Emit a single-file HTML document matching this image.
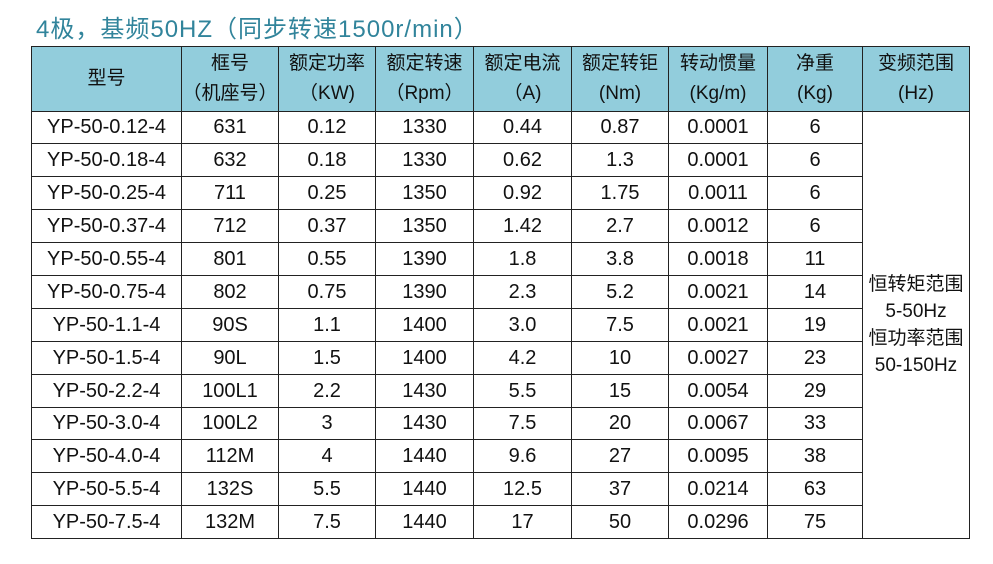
<!DOCTYPE html>
<html><head><meta charset="utf-8"><style>
body{margin:0;width:993px;height:564px;background:#fff;overflow:hidden;font-family:"Liberation Sans","Noto Sans CJK SC",sans-serif;}
.t{position:absolute;left:36px;top:9px;font-size:24px;color:#31849b;white-space:nowrap;letter-spacing:1px;}
table{position:absolute;left:31px;top:46px;border-collapse:collapse;table-layout:fixed;width:938px;}
td{border:1.5px solid #222;text-align:center;font-size:20px;color:#111;padding:0;height:31.9px;line-height:22px;}
tr.h td{background:#92cddc;height:63.5px;font-size:19px;line-height:30px;}
td.m{line-height:27px;font-size:19px;}
</style></head><body>
<div class="t">4极，基频50HZ（同步转速1500r/min）</div>
<table>
<colgroup><col style="width:150px"><col style="width:97px"><col style="width:97px"><col style="width:98px"><col style="width:98px"><col style="width:97px"><col style="width:99px"><col style="width:95px"><col style="width:107px"></colgroup>
<tr class="h"><td>型号</td><td>框号<br>（机座号）</td><td>额定功率<br>（KW)</td><td>额定转速<br>（Rpm）</td><td>额定电流<br>（A)</td><td>额定转钜<br>(Nm)</td><td>转动惯量<br>(Kg/m)</td><td>净重<br>(Kg)</td><td>变频范围<br>(Hz)</td></tr>
<tr><td>YP-50-0.12-4</td><td>631</td><td>0.12</td><td>1330</td><td>0.44</td><td>0.87</td><td>0.0001</td><td>6</td><td rowspan="13" class="m">恒转矩范围<br>5-50Hz<br>恒功率范围<br>50-150Hz</td></tr>
<tr><td>YP-50-0.18-4</td><td>632</td><td>0.18</td><td>1330</td><td>0.62</td><td>1.3</td><td>0.0001</td><td>6</td></tr>
<tr><td>YP-50-0.25-4</td><td>711</td><td>0.25</td><td>1350</td><td>0.92</td><td>1.75</td><td>0.0011</td><td>6</td></tr>
<tr><td>YP-50-0.37-4</td><td>712</td><td>0.37</td><td>1350</td><td>1.42</td><td>2.7</td><td>0.0012</td><td>6</td></tr>
<tr><td>YP-50-0.55-4</td><td>801</td><td>0.55</td><td>1390</td><td>1.8</td><td>3.8</td><td>0.0018</td><td>11</td></tr>
<tr><td>YP-50-0.75-4</td><td>802</td><td>0.75</td><td>1390</td><td>2.3</td><td>5.2</td><td>0.0021</td><td>14</td></tr>
<tr><td>YP-50-1.1-4</td><td>90S</td><td>1.1</td><td>1400</td><td>3.0</td><td>7.5</td><td>0.0021</td><td>19</td></tr>
<tr><td>YP-50-1.5-4</td><td>90L</td><td>1.5</td><td>1400</td><td>4.2</td><td>10</td><td>0.0027</td><td>23</td></tr>
<tr><td>YP-50-2.2-4</td><td>100L1</td><td>2.2</td><td>1430</td><td>5.5</td><td>15</td><td>0.0054</td><td>29</td></tr>
<tr><td>YP-50-3.0-4</td><td>100L2</td><td>3</td><td>1430</td><td>7.5</td><td>20</td><td>0.0067</td><td>33</td></tr>
<tr><td>YP-50-4.0-4</td><td>112M</td><td>4</td><td>1440</td><td>9.6</td><td>27</td><td>0.0095</td><td>38</td></tr>
<tr><td>YP-50-5.5-4</td><td>132S</td><td>5.5</td><td>1440</td><td>12.5</td><td>37</td><td>0.0214</td><td>63</td></tr>
<tr><td>YP-50-7.5-4</td><td>132M</td><td>7.5</td><td>1440</td><td>17</td><td>50</td><td>0.0296</td><td>75</td></tr>
</table>
</body></html>
